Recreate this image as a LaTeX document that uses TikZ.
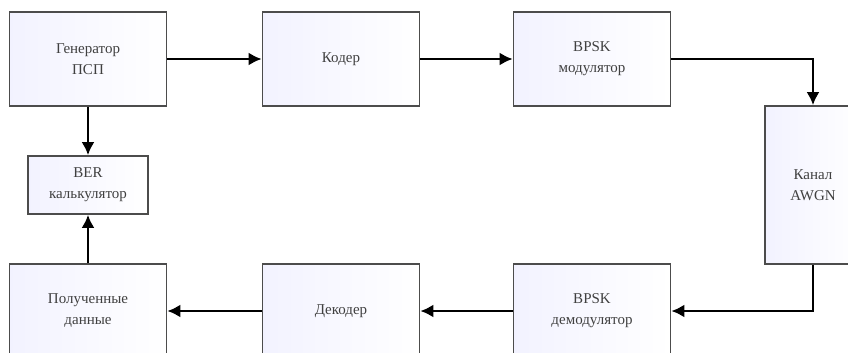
\documentclass[tikz,border=0pt]{standalone}
\usepackage{fontspec}
\setmainfont{Liberation Serif}
\usetikzlibrary{arrows.meta}

\begin{document}
\begin{tikzpicture}[x=1pt, y=-1pt,
  block/.style={draw=black!70, line width=1.6pt, left color=blue!5, right color=white,
    minimum width=157pt, minimum height=94pt, align=center, font=\fontsize{15}{21}\selectfont, text=black!75},
  flow/.style={line width=2.8pt, -{Latex[length=13pt, width=13pt]}}]
\clip (0,0) rectangle (848,353);
\node[block] (gen) at (88,59) {Генератор\\ПСП};
\node[block] (coder) at (341,59) {Кодер};
\node[block] (mod) at (592,59) {BPSK\\модулятор};
\node[block, minimum width=96pt, minimum height=158pt] (channel) at (813,185) {Канал\\AWGN};
\node[block, minimum width=120pt, minimum height=58pt] (ber) at (88,185) {BER\\калькулятор};
\node[block] (rxdata) at (88,311) {Полученные\\данные};
\node[block] (decoder) at (341,311) {Декодер};
\node[block] (demod) at (592,311) {BPSK\\демодулятор};

\draw[flow] (gen) -- (coder);
\draw[flow] (coder) -- (mod);
\draw[flow] (mod.east) -| (channel.north);
\draw[flow] (channel.south) |- (demod.east);
\draw[flow] (demod) -- (decoder);
\draw[flow] (decoder) -- (rxdata);
\draw[flow] (rxdata) -- (ber);
\draw[flow] (gen) -- (ber);
\end{tikzpicture}
\end{document}
